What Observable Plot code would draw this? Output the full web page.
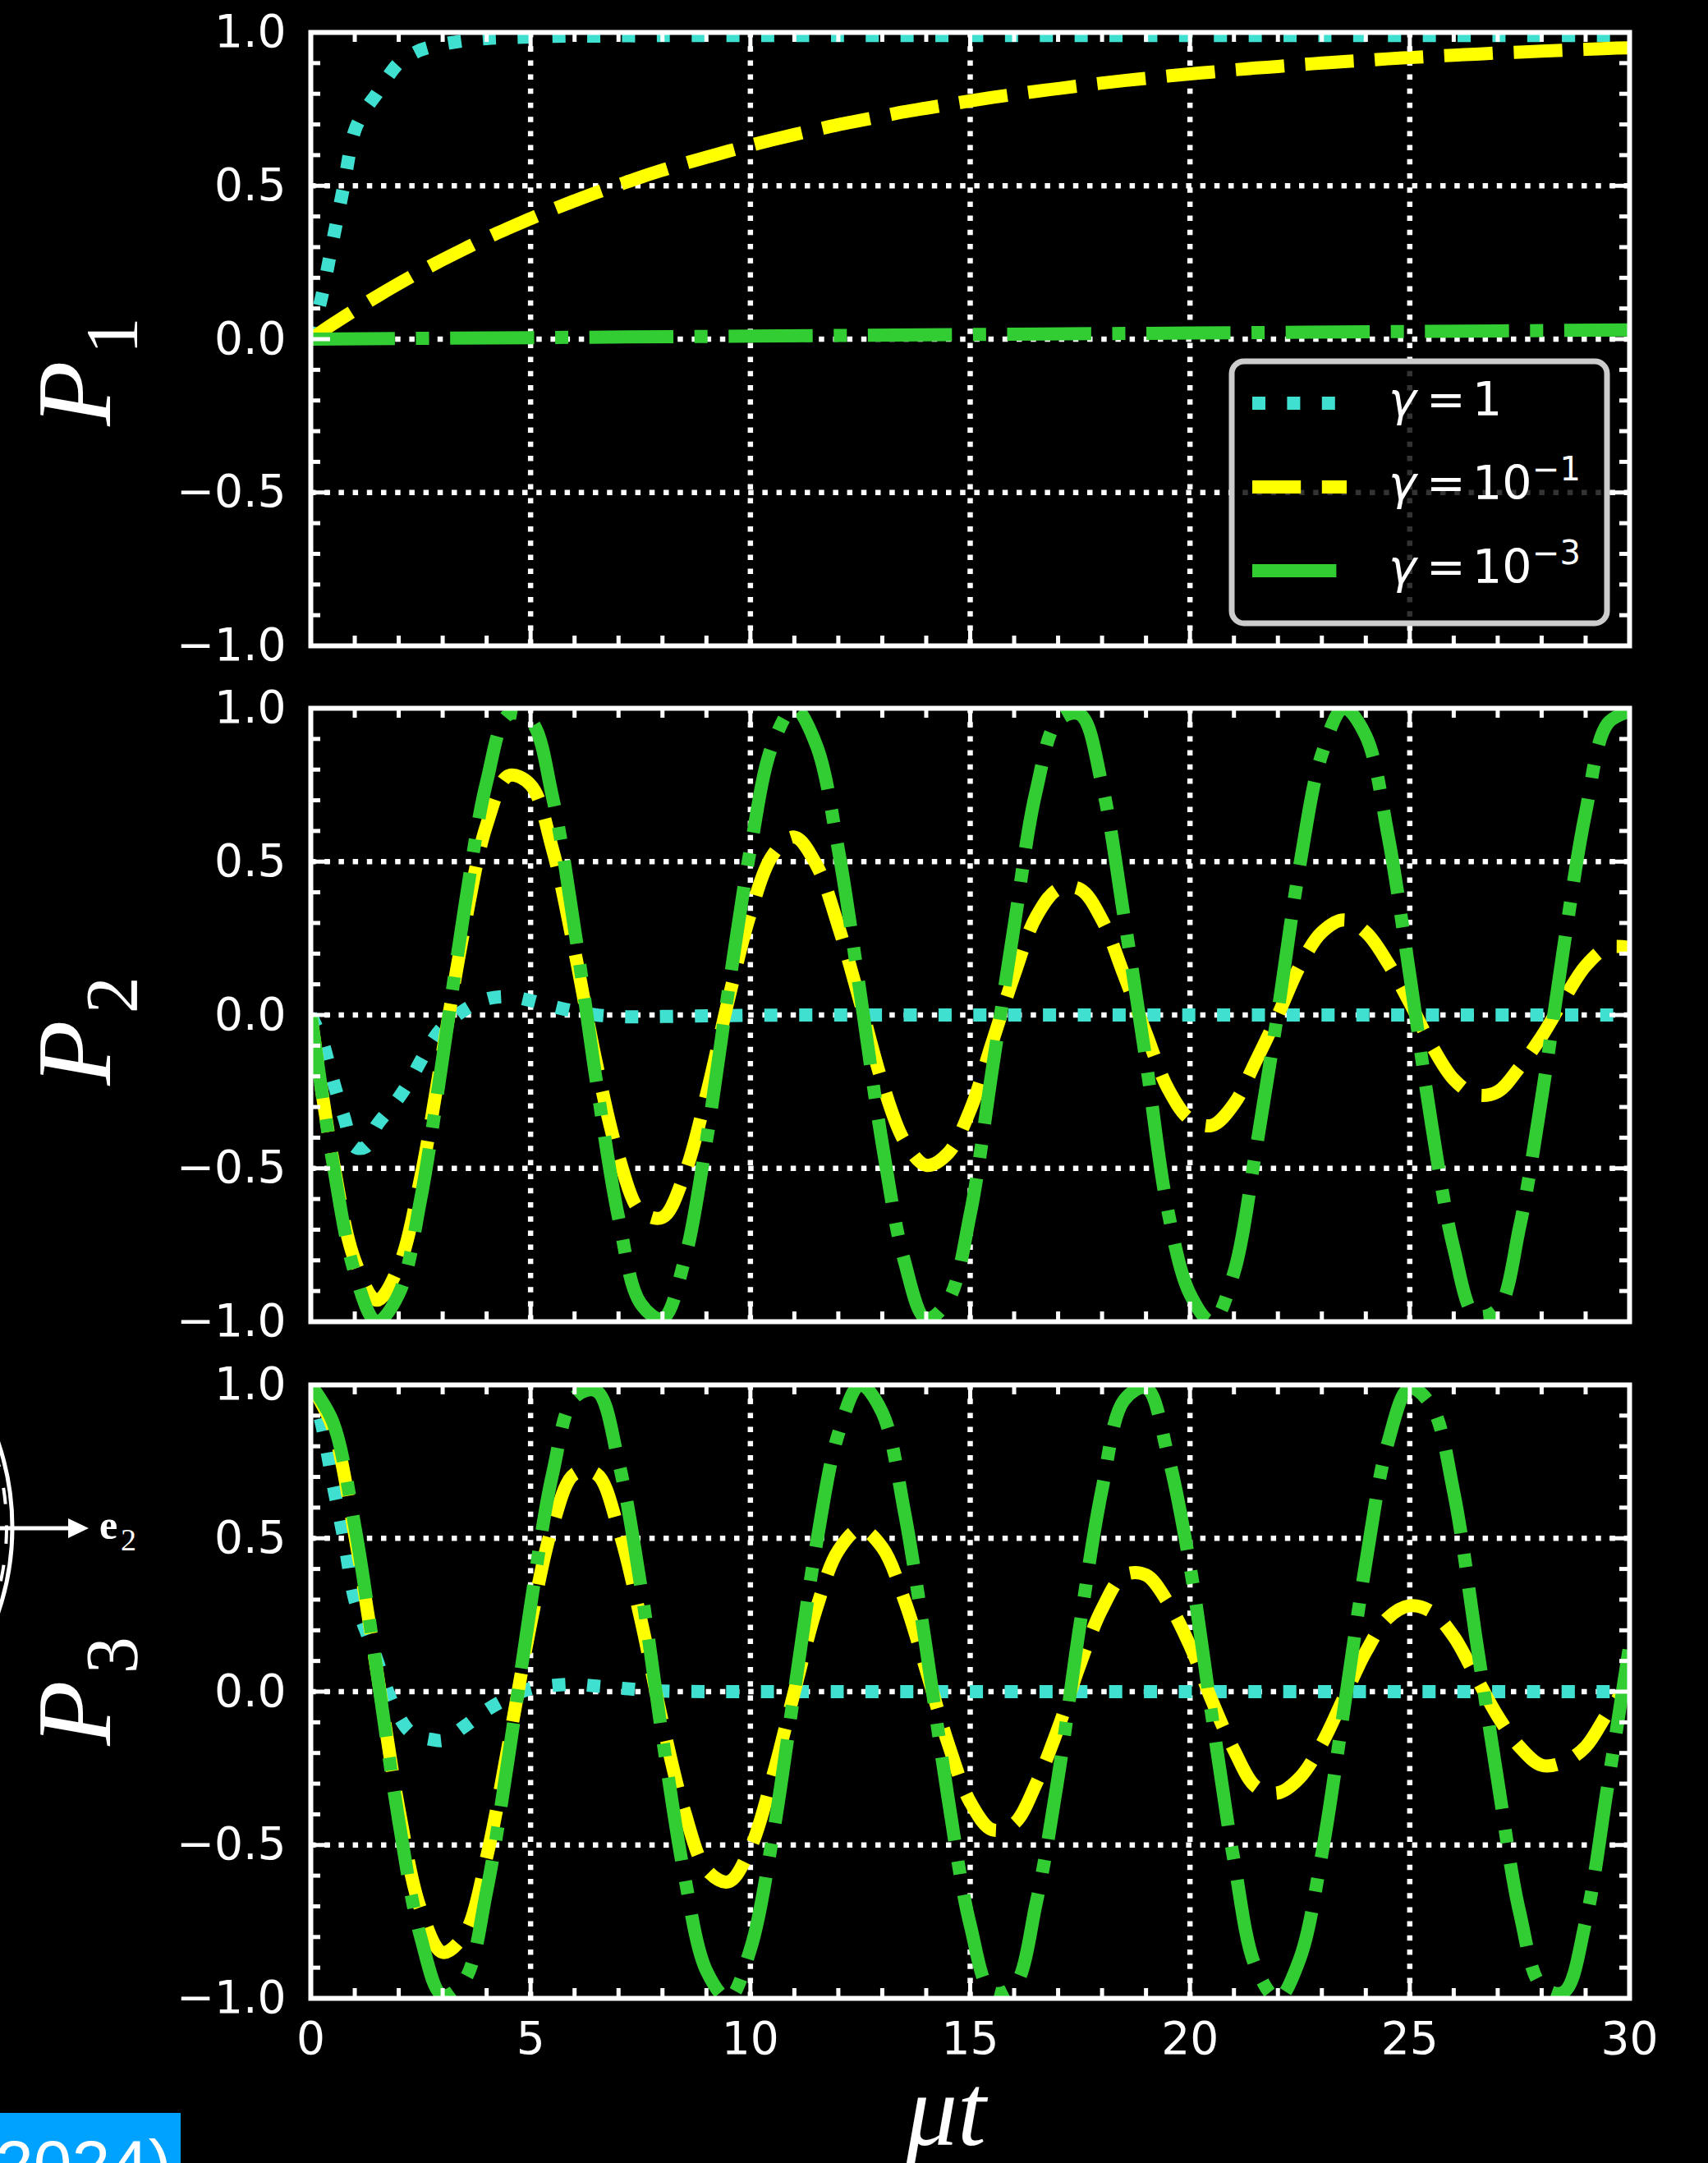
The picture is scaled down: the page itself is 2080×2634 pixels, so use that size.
<!DOCTYPE html>
<html><head><meta charset="utf-8">
<script src="https://cdn.jsdelivr.net/npm/d3@7"></script>
<script src="https://cdn.jsdelivr.net/npm/@observablehq/plot@0.6"></script>
<style>
html,body{margin:0;padding:0;background:#000;overflow:hidden}
#fig{position:relative;width:2080px;height:2634px;background:#000;overflow:hidden}
#fig svg{position:absolute;left:0}
</style></head><body><div id="fig"></div>
<script>
// ---------- data ----------
const t = [0,0.5,1,1.5,2,2.5,3,3.5,4,4.5,5,5.5,6,6.5,7,7.5,8,8.5,9,9.5,10,10.5,11,11.5,12,12.5,13,13.5,14,14.5,15,15.5,16,16.5,17,17.5,18,18.5,19,19.5,20,20.5,21,21.5,22,22.5,23,23.5,24,24.5,25,25.5,26,26.5,27,27.5,28,28.5,29,29.5,30];
const tCyan = [0,0.25,0.5,0.75,1,1.25,1.5,1.75,2,2.25,2.5,2.75,3,3.5,4,4.5,5,5.5,6,6.5,7,7.5,8,9,10,12,14,16,18,20,22,24,26,28,30];
const tGreenP1 = [0,5,10,15,20,25,30];

// gamma = 1
const cyanP1 = [0,0.14,0.32,0.50,0.68,0.75,0.80,0.855,0.90,0.925,0.943,0.954,0.962,0.973,0.98,0.983,0.985,0.987,0.988,0.988,0.989,0.989,0.99,0.99,0.99,0.99,0.99,0.99,0.99,0.99,0.99,0.99,0.99,0.99,0.99];
const cyanP2 = [0,-0.08,-0.21,-0.33,-0.43,-0.43,-0.36,-0.315,-0.27,-0.215,-0.15,-0.087,-0.04,0.017,0.052,0.06,0.047,0.028,0.012,0.0,-0.005,-0.006,-0.005,-0.003,-0.001,0,0,0,0,0,0,0,0,0,0];
const cyanP3 = [1,0.87,0.68,0.50,0.30,0.20,0.105,0.0,-0.08,-0.13,-0.148,-0.156,-0.159,-0.113,-0.06,-0.02,0.01,0.02,0.024,0.018,0.012,0.006,0.002,0,0,0,0,0,0,0,0,0,0,0,0];

// gamma = 10^-1
const yellowP1 = [0,0.049,0.095,0.139,0.181,0.221,0.259,0.295,0.330,0.362,0.393,0.423,0.451,0.478,0.503,0.528,0.551,0.573,0.593,0.613,0.632,0.650,0.667,0.683,0.699,0.713,0.727,0.741,0.753,0.765,0.777,0.788,0.798,0.808,0.817,0.826,0.835,0.843,0.850,0.858,0.865,0.871,0.878,0.884,0.889,0.895,0.900,0.905,0.909,0.914,0.918,0.922,0.926,0.929,0.933,0.936,0.939,0.942,0.945,0.948,0.950];
const yellowP2 = [0,-0.47,-0.80,-0.93,-0.82,-0.53,-0.12,0.29,0.62,0.78,0.75,0.54,0.21,-0.16,-0.46,-0.64,-0.66,-0.52,-0.26,0.05,0.33,0.52,0.58,0.49,0.29,0.04,-0.22,-0.41,-0.49,-0.45,-0.31,-0.09,0.13,0.32,0.41,0.41,0.31,0.13,-0.06,-0.24,-0.34,-0.36,-0.29,-0.15,0.00,0.16,0.27,0.31,0.27,0.17,0.04,-0.10,-0.21,-0.26,-0.25,-0.17,-0.07,0.05,0.16,0.22,0.22];
const yellowP3 = [1,0.86,0.51,0.07,-0.38,-0.71,-0.85,-0.79,-0.54,-0.17,0.22,0.54,0.71,0.71,0.53,0.24,-0.10,-0.39,-0.58,-0.62,-0.51,-0.28,0.00,0.27,0.46,0.53,0.47,0.30,0.07,-0.17,-0.36,-0.45,-0.43,-0.30,-0.12,0.09,0.27,0.38,0.38,0.29,0.15,-0.03,-0.19,-0.31,-0.33,-0.28,-0.17,-0.02,0.13,0.24,0.28,0.26,0.18,0.05,-0.08,-0.18,-0.24,-0.23,-0.18,-0.07,0.03];

// gamma = 10^-3
const greenP1 = [0,0.005,0.01,0.015,0.02,0.025,0.03];
const greenP2 = [0,-0.48,-0.84,-1.00,-0.91,-0.60,-0.14,0.35,0.76,0.98,0.96,0.71,0.28,-0.22,-0.66,-0.94,-0.99,-0.80,-0.41,0.08,0.54,0.88,1.00,0.88,0.54,0.07,-0.42,-0.80,-0.99,-0.93,-0.65,-0.18,0.29,0.73,0.96,0.98,0.75,0.32,-0.15,-0.64,-0.91,-1.00,-0.84,-0.44,0.01,0.49,0.85,1.00,0.91,0.59,0.13,-0.36,-0.76,-0.98,-0.96,-0.69,-0.27,0.22,0.66,0.95,0.99];
const greenP3 = [1,0.88,0.54,0.07,-0.42,-0.80,-0.99,-0.94,-0.65,-0.21,0.28,0.71,0.96,0.98,0.75,0.35,-0.15,-0.60,-0.91,-1.00,-0.84,-0.48,0.00,0.48,0.84,1.00,0.91,0.59,0.14,-0.35,-0.76,-0.98,-0.96,-0.69,-0.28,0.22,0.66,0.95,0.99,0.77,0.41,-0.08,-0.55,-0.90,-1.00,-0.87,-0.53,-0.06,0.42,0.81,0.99,0.93,0.65,0.18,-0.29,-0.72,-0.96,-0.98,-0.75,-0.31,0.15];

// ticks and labels
const xMajor = [0,5,10,15,20,25,30];
const xMinor = [1,2,3,4,6,7,8,9,11,12,13,14,16,17,18,19,21,22,23,24,26,27,28,29];
const yMajor = [-1,-0.5,0,0.5,1];
const yMinor = [-0.9,-0.8,-0.7,-0.6,-0.4,-0.3,-0.2,-0.1,0.1,0.2,0.3,0.4,0.6,0.7,0.8,0.9];
const gammaBase = ["1","10","10"];
const gammaExp = ["","−1","−3"];
const panelSubs = ["1","2","3"];
const xTitle = "μt";

// ---------- styles ----------
const colors = ["#40E0D0","#FFFF00","#32CD32"];
const dashes = ["16 26.4","59.2 25.6","102.4 25.6 16 25.6"];
const LW = 16;

const rows = (ts, vs) => ts.map((x,i)=>({t:x, v:vs[i]}));
const panels = [
  {top: 9,    sub: panelSubs[0], labShift: 40, series: [rows(tCyan,cyanP1), rows(t,yellowP1), rows(tGreenP1,greenP1)], legend: true},
  {top: 832,  sub: panelSubs[1], labShift: 20, series: [rows(tCyan,cyanP2), rows(t,yellowP2), rows(t,greenP2)]},
  {top: 1656, sub: panelSubs[2], labShift: 0,  series: [rows(tCyan,cyanP3), rows(t,yellowP3), rows(t,greenP3)], xAxis: true}
];

const fig = document.getElementById("fig");
const W = 2080, ML = 378, MR = 2080-1984, MT = 30, PH = 747;
const PW = W - ML - MR;
const LMaj = 24, LMin = 12, TW = 5;
const fmtY = d => d.toFixed(1).replace("-", "−");

panels.forEach((p) => {
  const MB = p.xAxis ? (2634 - p.top - MT - PH) : 30;
  const H = MT + PH + MB;
  const tickStyle = {stroke: "white", strokeWidth: TW};
  const marks = [
    Plot.ruleX(xMajor.slice(1,-1), {stroke: "white", strokeWidth: 6.5, strokeDasharray: "6.5 10.7"}),
    Plot.ruleY(yMajor.slice(1,-1), {stroke: "white", strokeWidth: 6.5, strokeDasharray: "6.5 10.7"}),
    ...p.series.map((data, i) => Plot.line(data, {
      x: "t", y: "v", stroke: colors[i], strokeWidth: LW, strokeDasharray: dashes[i],
      strokeLinecap: "butt", strokeLinejoin: "round", curve: "catmull-rom", clip: true
    })),
    Plot.ruleY(yMajor, {...tickStyle, insetRight: PW - LMaj}),
    Plot.ruleY(yMajor, {...tickStyle, insetLeft: PW - LMaj}),
    Plot.ruleY(yMinor, {...tickStyle, insetRight: PW - LMin}),
    Plot.ruleY(yMinor, {...tickStyle, insetLeft: PW - LMin}),
    Plot.ruleX(xMajor, {...tickStyle, insetTop: PH - LMaj}),
    Plot.ruleX(xMajor, {...tickStyle, insetBottom: PH - LMaj}),
    Plot.ruleX(xMinor, {...tickStyle, insetTop: PH - LMin}),
    Plot.ruleX(xMinor, {...tickStyle, insetBottom: PH - LMin}),
    Plot.frame({stroke: "white", strokeWidth: 6}),
    Plot.axisY(yMajor, {tickSize: 0, tickPadding: 30, tickFormat: fmtY, label: null})
  ];
  if (p.xAxis) marks.push(Plot.axisX(xMajor, {tickSize: 0, tickPadding: 28, tickFormat: d => String(d), label: null}));
  const svg = Plot.plot({
    width: W, height: H,
    marginLeft: ML, marginRight: MR, marginTop: MT, marginBottom: MB,
    x: {domain: [0, 30], axis: p.xAxis ? undefined : null},
    y: {domain: [-1, 1]},
    style: {background: "transparent", color: "white", fontFamily: "DejaVu Sans", fontSize: "55px", overflow: "visible"},
    marks
  });
  svg.style.top = p.top + "px";
  fig.appendChild(svg);
  const g = d3.select(svg);

  // y label  P_i
  const cy = MT + PH / 2 + p.labShift;
  const lab = g.append("text")
    .attr("transform", `translate(134,${cy}) rotate(-90)`)
    .attr("text-anchor", "middle").attr("fill", "white")
    .attr("font-family", "'Liberation Serif', 'DejaVu Serif', serif");
  lab.append("tspan").attr("font-style", "italic").attr("font-size", 130).text("P");
  lab.append("tspan").attr("font-size", 90).attr("dx", 8).attr("dy", 33).text(p.sub);

  if (p.xAxis) {
    g.append("text").attr("x", 1152).attr("y", 2612 - p.top)
      .attr("text-anchor", "middle").attr("fill", "white")
      .attr("font-family", "'Liberation Serif', 'DejaVu Serif', serif")
      .attr("font-style", "italic").attr("font-size", 125).text(xTitle);
  }

  if (p.legend) {
    const lg = g.append("g").attr("text-anchor", "start");
    lg.append("rect").attr("x", 1500).attr("y", 440 - p.top).attr("width", 457).attr("height", 319)
      .attr("rx", 15).attr("fill", "black").attr("fill-opacity", 0.8)
      .attr("stroke", "#cccccc").attr("stroke-width", 7);
    const rowY = [491, 593, 695];
    gammaBase.forEach((b, i) => {
      const y = rowY[i] - p.top;
      lg.append("line").attr("x1", 1525).attr("x2", 1640).attr("y1", y).attr("y2", y)
        .attr("stroke", colors[i]).attr("stroke-width", LW).attr("stroke-dasharray", dashes[i]);
      const tx = lg.append("text").attr("fill", "white").attr("text-anchor", "start")
        .attr("font-family", "'DejaVu Sans', sans-serif").attr("font-size", 57);
      tx.append("tspan").attr("x", 1691).attr("y", y + 15).attr("font-style", "italic").text("γ");
      tx.append("tspan").attr("x", 1737).attr("y", y + 15).text("=");
      tx.append("tspan").attr("x", 1793).attr("y", y + 15).text(b);
      if (gammaExp[i]) tx.append("tspan").attr("x", 1866).attr("y", y - 8).attr("font-size", 40).text(gammaExp[i]);
    });
  }
});

// ---------- leftover slide decorations at the page edges ----------
const deco = d3.select(fig).append("svg").attr("width", 2080).attr("height", 2634).style("top", "0px");
deco.append("circle").attr("cx", -306).attr("cy", 1860).attr("r", 321).attr("fill", "none").attr("stroke", "white").attr("stroke-width", 5);
deco.append("circle").attr("cx", -300).attr("cy", 1860).attr("r", 308).attr("fill", "none").attr("stroke", "white").attr("stroke-width", 4).attr("stroke-dasharray", "20 26");
deco.append("line").attr("x1", -10).attr("x2", 86).attr("y1", 1861).attr("y2", 1861).attr("stroke", "white").attr("stroke-width", 5);
deco.append("polygon").attr("points", "83,1849 108,1861 83,1873").attr("fill", "white");
const e2 = deco.append("text").attr("fill", "white").attr("font-family", "'Liberation Serif', serif");
e2.append("tspan").attr("x", 121).attr("y", 1874).attr("font-weight", "bold").attr("font-size", 50).text("e");
e2.append("tspan").attr("x", 147).attr("y", 1888).attr("font-size", 38).text("2");
deco.append("rect").attr("x", 0).attr("y", 2573).attr("width", 220).attr("height", 70).attr("fill", "#00A2FF");
deco.append("text").attr("x", -6).attr("y", 2665).attr("fill", "white").attr("font-family", "'Liberation Sans', Arial, sans-serif").attr("font-size", 84).text("2024)");
</script>
</body></html>
